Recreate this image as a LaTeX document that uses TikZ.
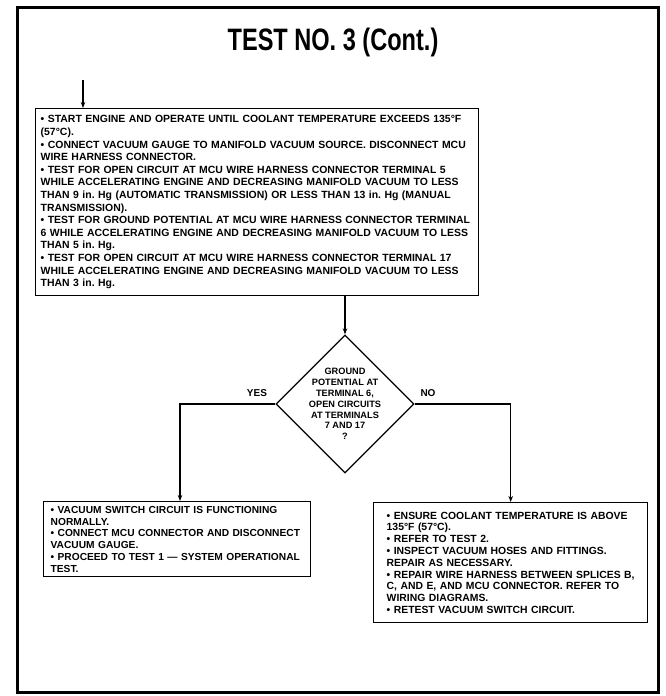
\documentclass[tikz,border=0pt]{standalone}
\usepackage{fontspec}
\usepackage{graphicx}
\setmainfont{Liberation Sans}
\usetikzlibrary{shapes.geometric,arrows.meta}
\frenchspacing

\begin{document}
\begin{tikzpicture}[x=1pt,y=-1pt,
  textbox/.style={draw, line width=1.4pt, align=left, inner ysep=0pt, anchor=north west},
  link/.style={line width=1.3pt},
  arr/.style={link, -{Stealth[length=6pt,width=4.5pt]}},
  branchlabel/.style={font=\fontsize{10}{12}\selectfont\bfseries}
]
\useasboundingbox (0,0) rectangle (665,696);

% outer frame
\draw[line width=3pt] (17,7) rectangle (658,692);

% heading
\node (title) at (333,42) {\fontsize{31}{31}\selectfont\bfseries\scalebox{0.76}[1]{TEST NO. 3 (Cont.)}};

% test procedure
\node[textbox, text width=433pt, minimum height=187pt, inner xsep=5pt,
      font=\fontsize{10.45}{12.6}\selectfont\bfseries] (steps) at (35,108) {%
• START ENGINE AND OPERATE UNTIL COOLANT TEMPERATURE EXCEEDS 135°F\\
(57°C).\\
• CONNECT VACUUM GAUGE TO MANIFOLD VACUUM SOURCE. DISCONNECT MCU\\
WIRE HARNESS CONNECTOR.\\
• TEST FOR OPEN CIRCUIT AT MCU WIRE HARNESS CONNECTOR TERMINAL 5\\
WHILE ACCELERATING ENGINE AND DECREASING MANIFOLD VACUUM TO LESS\\
THAN 9 in. Hg (AUTOMATIC TRANSMISSION) OR LESS THAN 13 in. Hg (MANUAL\\
TRANSMISSION).\\
• TEST FOR GROUND POTENTIAL AT MCU WIRE HARNESS CONNECTOR TERMINAL\\
6 WHILE ACCELERATING ENGINE AND DECREASING MANIFOLD VACUUM TO LESS\\
THAN 5 in. Hg.\\
• TEST FOR OPEN CIRCUIT AT MCU WIRE HARNESS CONNECTOR TERMINAL 17\\
WHILE ACCELERATING ENGINE AND DECREASING MANIFOLD VACUUM TO LESS\\
THAN 3 in. Hg.};

\coordinate (entry) at (83,80);
\draw[arr] (entry) -- (entry |- steps.north);

% decision
\node[draw, diamond, line width=1.3pt, minimum width=138pt, minimum height=138pt, inner sep=0pt] (check) at (345,404) {};
\node[align=center, font=\fontsize{9.2}{10.8}\selectfont\bfseries] (question) at (check.center) {GROUND\\POTENTIAL AT\\TERMINAL 6,\\OPEN CIRCUITS\\AT TERMINALS\\7 AND 17\\?};
\draw[arr] (steps.south -| check.north) -- (check.north);

% outcomes
\node[textbox, text width=253pt, minimum height=75pt, inner xsep=7pt,
      font=\fontsize{10.2}{11.8}\selectfont\bfseries] (pass) at (43,501) {%
• VACUUM SWITCH CIRCUIT IS FUNCTIONING\\
NORMALLY.\\
• CONNECT MCU CONNECTOR AND DISCONNECT\\
VACUUM GAUGE.\\
• PROCEED TO TEST 1 — SYSTEM OPERATIONAL\\
TEST.};

\node[textbox, text width=248pt, minimum height=120pt, inner xsep=13pt,
      font=\fontsize{10.4}{11.8}\selectfont\bfseries] (fail) at (373,502) {%
• ENSURE COOLANT TEMPERATURE IS ABOVE\\
135°F (57°C).\\
• REFER TO TEST 2.\\
• INSPECT VACUUM HOSES AND FITTINGS.\\
REPAIR AS NECESSARY.\\
• REPAIR WIRE HARNESS BETWEEN SPLICES B,\\
C, AND E, AND MCU CONNECTOR. REFER TO\\
WIRING DIAGRAMS.\\
• RETEST VACUUM SWITCH CIRCUIT.};

\coordinate (yesturn) at (180,404);
\draw[arr] (check.west) -- (yesturn) -- (yesturn |- pass.north);
\draw[arr] (check.east) -| (fail.north);

\node[branchlabel] (yes) at (257,393) {YES};
\node[branchlabel] (no) at (428,393) {NO};
\end{tikzpicture}
\end{document}
